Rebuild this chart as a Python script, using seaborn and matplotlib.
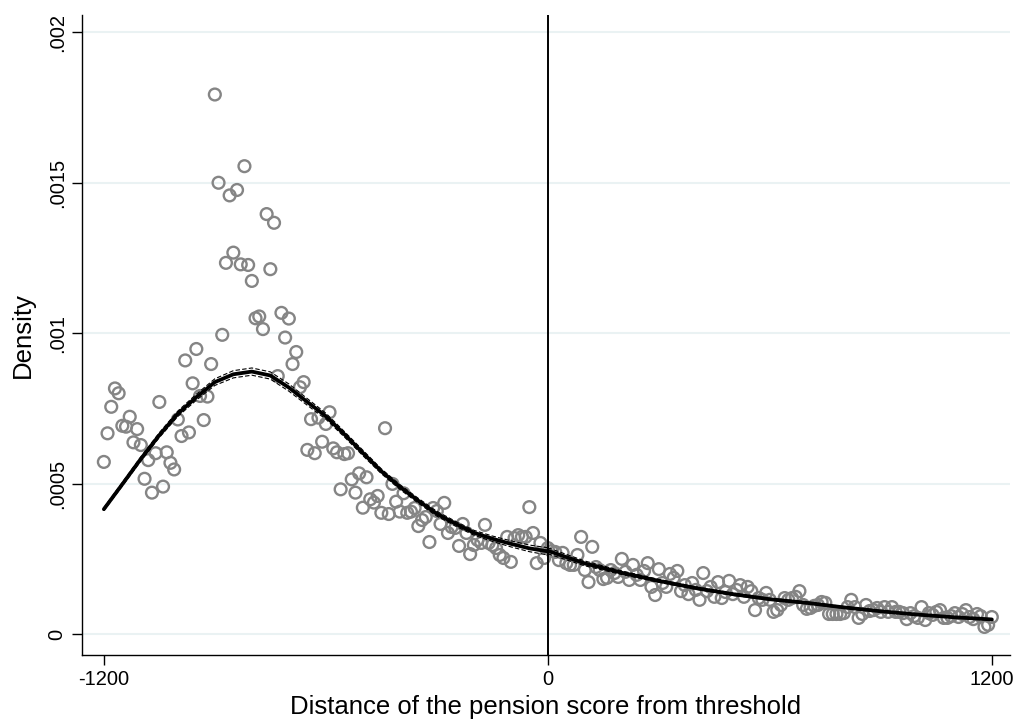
import numpy as np
import pandas as pd
import matplotlib
matplotlib.use("Agg")
import matplotlib.pyplot as plt
import seaborn as sns

# Binned density (units of 1e-4), left of the threshold: bins -1200 ... -10
left_bins = list(range(-1200, 0, 10))
left_density = [
    5.73, 6.68, 7.56, 8.17, 8.01, 6.93, 6.90, 7.23, 6.38, 6.82,
    6.29, 5.17, 5.79, 4.71, 6.02, 7.72, 4.91, 6.05, 5.70, 5.48,
    7.14, 6.59, 9.10, 6.71, 8.34, 9.48, 7.92, 7.12, 7.90, 8.98,
    17.93, 15.00, 9.95, 12.34, 14.58, 12.68, 14.76, 12.29, 15.55, 12.27,
    11.74, 10.50, 10.56, 10.14, 13.96, 12.13, 13.67, 8.58, 10.68, 9.86,
    10.49, 8.98, 9.38, 8.21, 8.38, 6.13, 7.15, 6.02, 7.20, 6.40,
    6.99, 7.38, 6.18, 6.05, 4.82, 5.99, 6.02, 5.15, 4.71, 5.35,
    4.21, 5.22, 4.49, 4.38, 4.60, 4.04, 6.85, 4.00, 5.00, 4.41,
    4.08, 4.69, 4.04, 4.08, 4.20, 3.60, 3.80, 3.90, 3.07, 4.20,
    4.10, 3.67, 4.37, 3.37, 3.57, 3.54, 2.94, 3.67, 3.37, 2.67,
    2.97, 3.14, 3.04, 3.64, 3.04, 2.97, 2.87, 2.64, 2.54, 3.24,
    2.41, 3.20, 3.30, 3.24, 3.24, 4.23, 3.37, 2.37, 3.04, 2.54,
]

# Binned density (units of 1e-4), right of the threshold: bins 0 ... 1200
right_bins = list(range(0, 1201, 10))
right_density = [
    2.87, 2.77, 2.74, 2.47, 2.71, 2.37, 2.31, 2.31, 2.64, 3.24,
    2.14, 1.74, 2.91, 2.24, 2.14, 1.84, 1.88, 2.14, 2.04, 1.91,
    2.51, 2.08, 1.81, 2.31, 1.98, 1.81, 2.11, 2.37, 1.58, 1.31,
    2.17, 1.71, 1.58, 2.01, 1.88, 2.11, 1.44, 1.64, 1.34, 1.71,
    1.48, 1.15, 2.04, 1.44, 1.58, 1.25, 1.74, 1.21, 1.41, 1.78,
    1.34, 1.48, 1.64, 1.25, 1.58, 1.44, 0.81, 1.21, 1.15, 1.38,
    1.15, 0.75, 0.81, 0.98, 1.21, 1.15, 1.21, 1.25, 1.44, 0.98,
    0.85, 0.88, 0.95, 0.98, 1.08, 1.05, 0.68, 0.68, 0.68, 0.68,
    0.71, 0.91, 1.15, 0.91, 0.55, 0.68, 0.98, 0.78, 0.81, 0.88,
    0.75, 0.91, 0.75, 0.91, 0.75, 0.75, 0.71, 0.51, 0.71, 0.61,
    0.55, 0.91, 0.48, 0.71, 0.65, 0.75, 0.81, 0.55, 0.55, 0.61,
    0.71, 0.58, 0.68, 0.81, 0.58, 0.51, 0.68, 0.61, 0.25, 0.32,
    0.58,
]

# Local linear density fit (units of 1e-4) with 95% band half-widths
left_fit_x = list(range(-1200, 1, 50))
left_fit = [4.16, 4.99, 5.83, 6.62, 7.33, 7.88, 8.38, 8.64, 8.73, 8.60,
            8.20, 7.72, 7.25, 6.65, 6.03, 5.42, 4.90, 4.44, 4.01, 3.68,
            3.38, 3.18, 3.01, 2.86, 2.76]
left_halfwidth = [0.05, 0.06, 0.07, 0.08, 0.09, 0.10, 0.11, 0.12, 0.12, 0.12,
                  0.12, 0.11, 0.10, 0.09, 0.09, 0.08, 0.08, 0.08, 0.08, 0.08,
                  0.08, 0.09, 0.10, 0.11, 0.12]

right_fit_x = list(range(0, 1201, 100))
right_fit = [2.78, 2.36, 2.05, 1.78, 1.54, 1.34, 1.17, 1.05, 0.90, 0.77,
             0.66, 0.57, 0.50]
right_halfwidth = [0.10, 0.08, 0.06, 0.05, 0.04, 0.04, 0.03, 0.03, 0.03, 0.02,
                   0.02, 0.02, 0.02]

x_ticks = [-1200, 0, 1200]
y_ticks = [0, 0.0005, 0.001, 0.0015, 0.002]
y_tick_labels = ["0", ".0005", ".001", ".0015", ".002"]

SCALE = 1e-4

sns.set_theme(style="white")
plt.rcParams["font.family"] = ["Liberation Sans", "DejaVu Sans"]

fig = plt.figure(figsize=(10.29, 7.25), dpi=100)
ax = fig.add_axes([0.0797, 0.0966, 0.9018, 0.8827])

# horizontal grid
for yv in y_ticks:
    ax.axhline(yv, color="#eaf2f3", lw=1.5, zorder=0)

bins_df = pd.DataFrame({
    "x": left_bins + right_bins,
    "density": np.array(left_density + right_density) * SCALE,
})
sns.scatterplot(data=bins_df, x="x", y="density", ax=ax, s=72,
                facecolors="none", edgecolor="#858585", linewidth=1.7,
                marker="o", zorder=3)

for fx, fy, hw in [(left_fit_x, left_fit, left_halfwidth),
                   (right_fit_x, right_fit, right_halfwidth)]:
    fy = np.array(fy) * SCALE
    hw = np.array(hw) * SCALE
    sns.lineplot(x=fx, y=fy + hw, ax=ax, color="black", lw=0.8,
                 linestyle=(0, (4, 2)), zorder=4)
    sns.lineplot(x=fx, y=fy - hw, ax=ax, color="black", lw=0.8,
                 linestyle=(0, (4, 2)), zorder=4)
    sns.lineplot(x=fx, y=fy, ax=ax, color="black", lw=2.7, zorder=5)

ax.axvline(0, color="black", lw=1.4, zorder=6)

ax.set_xlim(-1259, 1249)
ax.set_ylim(-0.000068, 0.002057)
ax.set_xticks(x_ticks)
ax.set_xticklabels([str(t) for t in x_ticks])
ax.set_yticks(y_ticks)
ax.set_yticklabels(y_tick_labels, rotation=90, va="center")

for side in ["top", "right"]:
    ax.spines[side].set_visible(False)
for side in ["left", "bottom"]:
    ax.spines[side].set_color("black")
    ax.spines[side].set_linewidth(1.0)

ax.tick_params(axis="both", which="major", direction="out", length=7,
               width=1.0, color="black", labelsize=14.5, labelcolor="black",
               left=True, bottom=True, pad=4)

ax.set_xlabel("Distance of the pension score from threshold", fontsize=18.5,
              color="black", labelpad=4)
ax.set_ylabel("Density", fontsize=18.5, color="black", labelpad=9)

fig.savefig("out.png", dpi=100, facecolor="white")
